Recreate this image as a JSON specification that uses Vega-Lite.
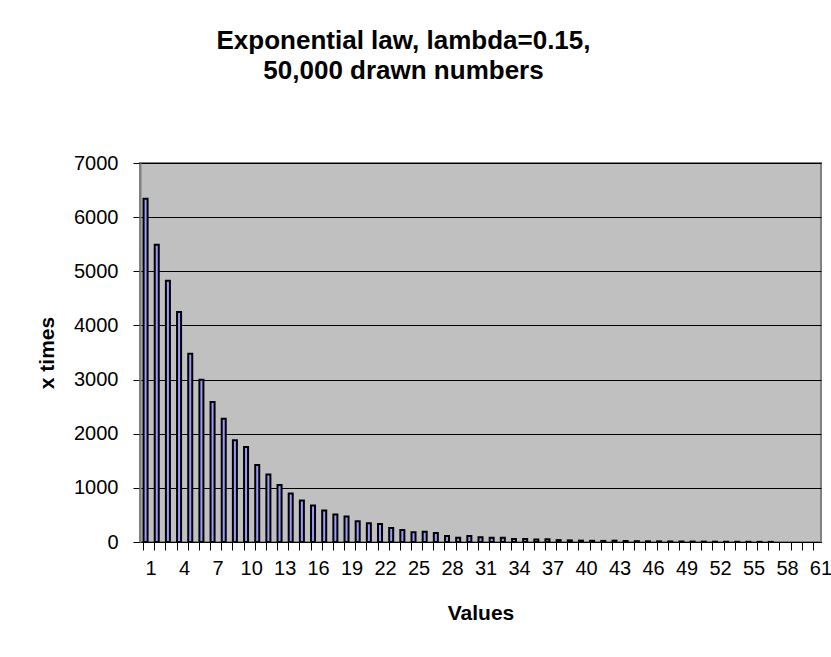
{
  "$schema": "https://vega.github.io/schema/vega-lite/v6.json",
  "width": 681,
  "height": 379,
  "autosize": {"type": "none"},
  "padding": {"left": 140, "top": 163, "right": 10, "bottom": 115},
  "background": "white",
  "title": {
    "text": ["Exponential law, lambda=0.15,", "50,000 drawn numbers"],
    "font": "Liberation Sans",
    "fontSize": 26,
    "fontWeight": "bold",
    "color": "black",
    "anchor": "middle",
    "baseline": "alphabetic",
    "lineHeight": 30.5,
    "offset": 48,
    "dx": -77
  },
  "config": {
    "view": {"fill": "#C0C0C0", "stroke": "#808080", "strokeWidth": 2},
    "axis": {"labelFont": "Liberation Sans", "titleFont": "Liberation Sans", "labelColor": "black", "titleColor": "black"}
  },
  "data": {
    "values": [
      {"value": 1, "count": 6338}, {"value": 2, "count": 5489}, {"value": 3, "count": 4825},
      {"value": 4, "count": 4247}, {"value": 5, "count": 3478}, {"value": 6, "count": 2998},
      {"value": 7, "count": 2587}, {"value": 8, "count": 2278}, {"value": 9, "count": 1878},
      {"value": 10, "count": 1756}, {"value": 11, "count": 1424}, {"value": 12, "count": 1245},
      {"value": 13, "count": 1055}, {"value": 14, "count": 895}, {"value": 15, "count": 766},
      {"value": 16, "count": 673}, {"value": 17, "count": 581}, {"value": 18, "count": 507},
      {"value": 19, "count": 470}, {"value": 20, "count": 385}, {"value": 21, "count": 348},
      {"value": 22, "count": 331}, {"value": 23, "count": 258}, {"value": 24, "count": 221},
      {"value": 25, "count": 178}, {"value": 26, "count": 190}, {"value": 27, "count": 166},
      {"value": 28, "count": 111}, {"value": 29, "count": 80}, {"value": 30, "count": 111},
      {"value": 31, "count": 87}, {"value": 32, "count": 80}, {"value": 33, "count": 80},
      {"value": 34, "count": 55}, {"value": 35, "count": 55}, {"value": 36, "count": 45},
      {"value": 37, "count": 50}, {"value": 38, "count": 35}, {"value": 39, "count": 30},
      {"value": 40, "count": 25}, {"value": 41, "count": 22}, {"value": 42, "count": 20},
      {"value": 43, "count": 25}, {"value": 44, "count": 18}, {"value": 45, "count": 15},
      {"value": 46, "count": 13}, {"value": 47, "count": 12}, {"value": 48, "count": 10},
      {"value": 49, "count": 9}, {"value": 50, "count": 8}, {"value": 51, "count": 7},
      {"value": 52, "count": 6}, {"value": 53, "count": 5}, {"value": 54, "count": 4},
      {"value": 55, "count": 4}, {"value": 56, "count": 3}, {"value": 57, "count": 2},
      {"value": 58, "count": 0}, {"value": 59, "count": 0}, {"value": 60, "count": 0},
      {"value": 61, "count": 0}
    ]
  },
  "mark": {"type": "bar", "fill": "#9999FF", "stroke": "black", "strokeWidth": 2},
  "encoding": {
    "x": {
      "field": "value",
      "type": "ordinal",
      "sort": "ascending",
      "scale": {"paddingInner": 0.64, "paddingOuter": 0.32},
      "axis": {
        "title": "Values",
        "titleFontSize": 21,
        "titleFontWeight": "bold",
        "titlePadding": 24,
        "labelAngle": 0,
        "labelFontSize": 20,
        "labelPadding": 8,
        "labelOverlap": false,
        "labelExpr": "(datum.value - 1) % 3 == 0 ? datum.label : ''",
        "bandPosition": 0,
        "labelOffset": 5.58,
        "tickSize": 8,
        "tickColor": "black",
        "domainColor": "black",
        "domainWidth": 1,
        "grid": false
      }
    },
    "y": {
      "field": "count",
      "type": "quantitative",
      "scale": {"domain": [0, 7000], "nice": false},
      "axis": {
        "title": "x times",
        "titleFontSize": 21,
        "titleFontWeight": "bold",
        "titlePadding": 16,
        "format": "d",
        "values": [0, 1000, 2000, 3000, 4000, 5000, 6000, 7000],
        "labelFontSize": 20,
        "labelPadding": 15,
        "tickSize": 7,
        "tickColor": "black",
        "domainColor": "#808080",
        "domainWidth": 2,
        "grid": true,
        "gridColor": "black",
        "gridWidth": 1,
        "gridOpacity": 1
      }
    },
    "strokeOpacity": {"condition": {"test": "datum.count == 0", "value": 0}, "value": 1}
  }
}
